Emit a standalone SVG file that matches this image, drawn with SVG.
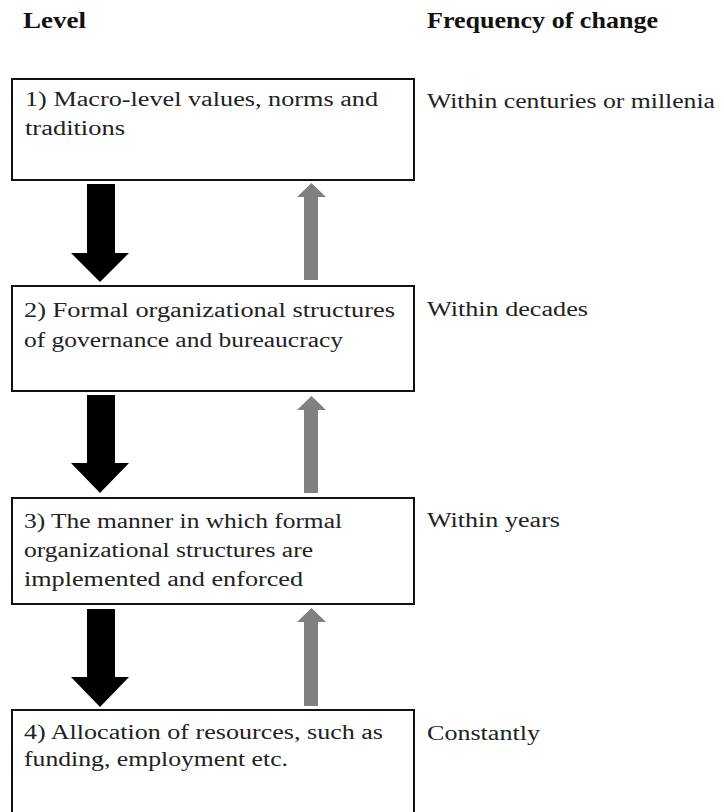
<svg xmlns="http://www.w3.org/2000/svg" width="724" height="812" viewBox="0 0 724 812">
<style>
.hd{font-family:'Liberation Serif','Times New Roman',serif;font-weight:bold;font-size:23px;fill:#111}
.t{font-family:'Liberation Serif','Times New Roman',serif;font-size:20px;fill:#222}
.box{fill:#fff;stroke:#111;stroke-width:2}
.down{fill:#000}
.up{fill:#808080}
</style>
<rect width="724" height="812" fill="#fff"/>
<text class="hd" x="23" y="28" textLength="63" lengthAdjust="spacingAndGlyphs">Level</text>
<text class="hd" x="427" y="28" textLength="231" lengthAdjust="spacingAndGlyphs">Frequency of change</text>

<g id="connectors">
  <path class="down" d="M87,184 H115 V253 H129 L100,282 L71,253 H87 Z"/>
  <path class="up" d="M304,280 V197 H297 L311.5,183 L326,197 H318 V280 Z"/>
  <path class="down" d="M87,395 H115 V463 H129 L100,493 L71,463 H87 Z"/>
  <path class="up" d="M304,493 V410 H297 L311.5,396 L326,410 H318 V493 Z"/>
  <path class="down" d="M87,609 H115 V677 H129 L100,707 L71,677 H87 Z"/>
  <path class="up" d="M304,706 V622 H297 L311.5,608 L326,622 H318 V706 Z"/>
</g>

<g id="node1">
  <rect class="box" x="12" y="79" width="402" height="101"/>
  <text class="t" x="25" y="106" textLength="353" lengthAdjust="spacingAndGlyphs">1) Macro-level values, norms and</text>
  <text class="t" x="25" y="135" textLength="100" lengthAdjust="spacingAndGlyphs">traditions</text>
</g>
<g id="node2">
  <rect class="box" x="12" y="286" width="402" height="105"/>
  <text class="t" x="24" y="317" textLength="371" lengthAdjust="spacingAndGlyphs">2) Formal organizational structures</text>
  <text class="t" x="24" y="347" textLength="319" lengthAdjust="spacingAndGlyphs">of governance and bureaucracy</text>
</g>
<g id="node3">
  <rect class="box" x="12" y="498" width="402" height="106"/>
  <text class="t" x="24" y="528" textLength="318" lengthAdjust="spacingAndGlyphs">3) The manner in which formal</text>
  <text class="t" x="24" y="557" textLength="289" lengthAdjust="spacingAndGlyphs">organizational structures are</text>
  <text class="t" x="24" y="586" textLength="279" lengthAdjust="spacingAndGlyphs">implemented and enforced</text>
</g>
<g id="node4">
  <rect class="box" x="12" y="710" width="402" height="110"/>
  <text class="t" x="24" y="739" textLength="359" lengthAdjust="spacingAndGlyphs">4) Allocation of resources, such as</text>
  <text class="t" x="24" y="766" textLength="264" lengthAdjust="spacingAndGlyphs">funding, employment etc.</text>
</g>

<g id="freq">
  <text class="t" x="427" y="108" textLength="288" lengthAdjust="spacingAndGlyphs">Within centuries or millenia</text>
  <text class="t" x="427" y="316" textLength="161" lengthAdjust="spacingAndGlyphs">Within decades</text>
  <text class="t" x="427" y="527" textLength="133" lengthAdjust="spacingAndGlyphs">Within years</text>
  <text class="t" x="427" y="740" textLength="113" lengthAdjust="spacingAndGlyphs">Constantly</text>
</g>
</svg>
